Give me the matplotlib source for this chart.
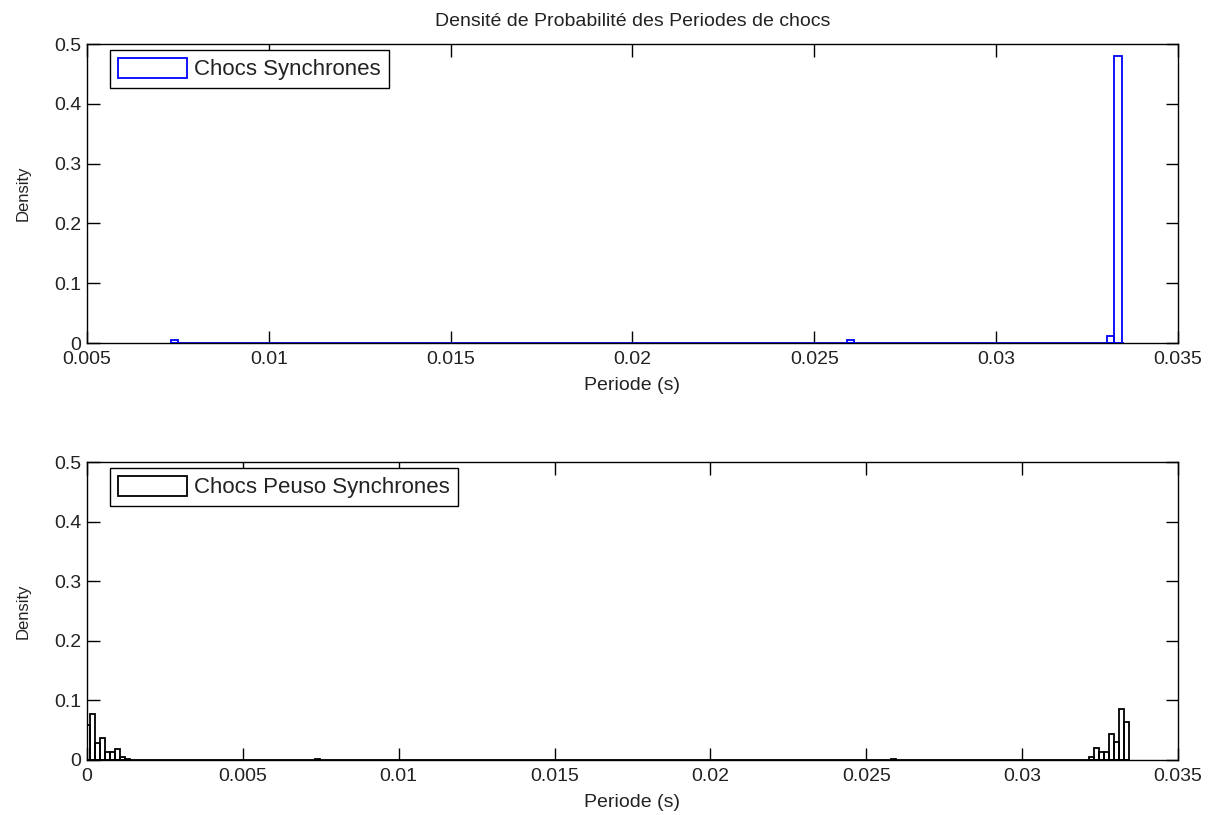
import numpy as np
import matplotlib
matplotlib.use('Agg')
import matplotlib.pyplot as plt
from matplotlib.ticker import FuncFormatter

plt.rcParams['font.family'] = ['Liberation Sans', 'DejaVu Sans']

# synchronous shocks: non-empty bins (bin width 0.0002 s)
sync_centers = [0.0074, 0.02599, 0.03315, 0.03335]
sync_density = [0.0045, 0.0045, 0.012, 0.48]
sync_width = 0.0002
sync_range = [0.0073, 0.0335]

# pseudo-synchronous shocks: non-empty bins (bin width 0.00016 s)
pseudo_centers = [0.000027, 0.000187, 0.000347, 0.000507, 0.000667,
                  0.000827, 0.000987, 0.001147, 0.001307,
                  0.00739, 0.02587,
                  0.032225, 0.032385, 0.032545, 0.032705, 0.032865,
                  0.033025, 0.033185, 0.033345]
pseudo_density = [0.058, 0.077, 0.029, 0.037, 0.013,
                  0.013, 0.018, 0.0055, 0.002,
                  0.002, 0.002,
                  0.0055, 0.0196, 0.014, 0.014, 0.0436,
                  0.031, 0.0856, 0.064]
pseudo_width = 0.00016
pseudo_range = [0.0, 0.033425]


def style_axes(ax, xticks):
    ax.set_xticks(xticks)
    ax.set_yticks([0, 0.1, 0.2, 0.3, 0.4, 0.5])
    ax.set_ylim(0, 0.5)
    ax.set_xlim(xticks[0], xticks[-1])
    fmt = FuncFormatter(lambda v, p: '{:g}'.format(round(v, 6)))
    ax.xaxis.set_major_formatter(fmt)
    ax.yaxis.set_major_formatter(fmt)
    ax.tick_params(axis='both', direction='in', length=9, width=1,
                   top=True, right=True, labelsize=14, labelcolor='#222222')
    ax.tick_params(axis='x', pad=6)
    ax.tick_params(axis='y', pad=4)
    for s in ax.spines.values():
        s.set_linewidth(1)
    ax.set_xlabel('Periode (s)', fontsize=14, labelpad=6, color='#222222')
    ax.set_ylabel('Density', fontsize=12, labelpad=17, color='#222222')


fig = plt.figure(figsize=(12.11, 8.15), dpi=100)
ax1 = fig.add_axes([0.0718, 0.5791, 0.9009, 0.3669])
ax2 = fig.add_axes([0.0718, 0.0675, 0.9009, 0.3656])

ax1.plot(sync_range, [0, 0], color='blue', lw=1.3, zorder=2)
ax1.bar(sync_centers, sync_density, width=sync_width, fill=False,
        edgecolor='blue', linewidth=1.3, label='Chocs Synchrones', zorder=3)
style_axes(ax1, [0.005, 0.01, 0.015, 0.02, 0.025, 0.03, 0.035])
ax1.set_title('Densité de Probabilité des Periodes de chocs', fontsize=14,
              pad=13, color='#222222')

ax2.plot(pseudo_range, [0, 0], color='black', lw=1.3, zorder=2)
ax2.bar(pseudo_centers, pseudo_density, width=pseudo_width, fill=False,
        edgecolor='black', linewidth=1.3, label='Chocs Peuso Synchrones', zorder=3)
style_axes(ax2, [0, 0.005, 0.01, 0.015, 0.02, 0.025, 0.03, 0.035])

for ax in (ax1, ax2):
    leg = ax.legend(loc='upper left', bbox_to_anchor=(0.021, 0.98), borderaxespad=0,
                    fontsize=16, fancybox=False, framealpha=1, edgecolor='black',
                    handlelength=3.1, handleheight=1.0, borderpad=0.35,
                    handletextpad=0.35)
    leg.get_frame().set_linewidth(1)
    for t in leg.get_texts():
        t.set_color('#222222')

fig.savefig('out.png', dpi=100)
